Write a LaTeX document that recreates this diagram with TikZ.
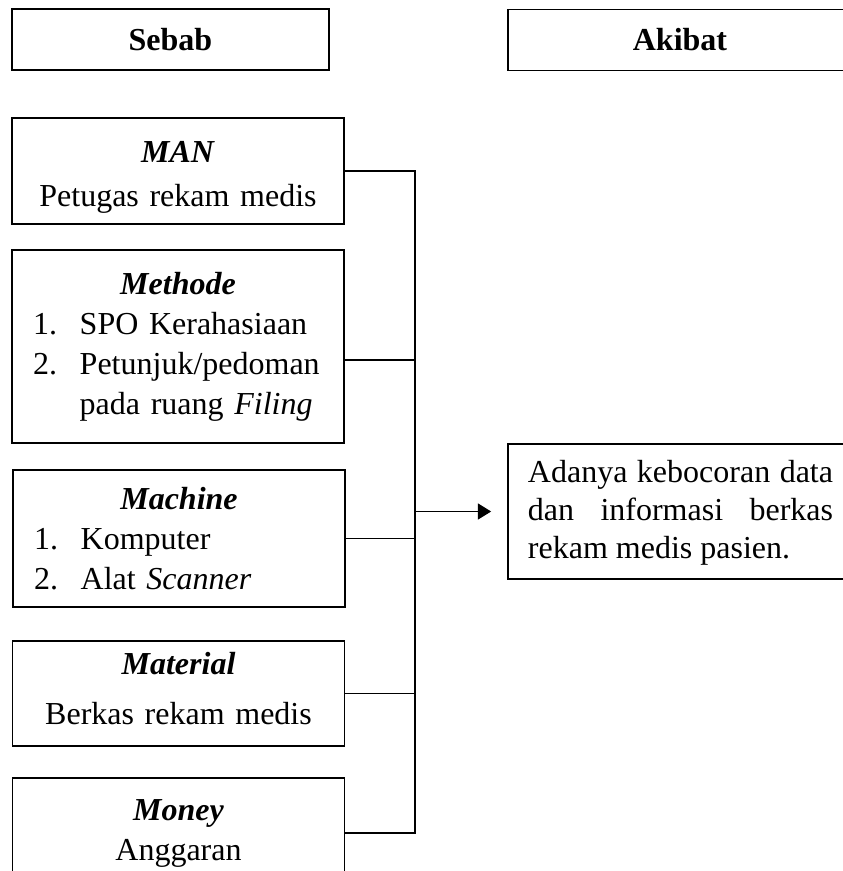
\documentclass[tikz,border=0pt]{standalone}
\usepackage{fontspec}
\setmainfont{Liberation Serif}
\usetikzlibrary{arrows.meta}

\newcommand{\listno}[1]{\makebox[17.5pt][l]{#1}}
\newcommand{\boxtitle}[1]{{\centering\textbf{\textit{#1}}\par}}

\begin{document}
\begin{tikzpicture}[x=0.375pt, y=-0.375pt, line width=0.6pt,
	headbox/.style={draw, minimum height=22.8pt, font=\fontsize{12}{15}\selectfont\bfseries},
	causebox/.style={draw, text width=108.7pt, inner xsep=7.9pt, align=left, font=\fontsize{12}{15}\selectfont},
	effectbox/.style={draw, text width=114.4pt, inner xsep=7.5pt, inner ysep=0pt, minimum height=50.6pt, align=justify, font=\fontsize{12}{14.25}\selectfont}]
	\useasboundingbox (0,0) rectangle (842,871);
	
	% headers
	\node[headbox, minimum width=118.9pt] (sebab) at (170.5,39.5) {Sebab};
	\node[headbox, minimum width=129pt] (akibat) at (680,40) {Akibat};
	
	% causes
	\node[causebox, minimum height=39.8pt] (man) at (178,171) {\boxtitle{\rule{0pt}{13pt}MAN}
		\vspace{1.5pt}{\centering Petugas rekam medis\par}};
	\node[causebox, minimum height=72.4pt] (methode) at (178,346.5) {\boxtitle{Methode}
		\listno{1.}SPO Kerahasiaan\\
		\listno{2.}Petunjuk/pedoman\\
		\hspace*{17.5pt}pada ruang \textit{Filing}};
	\node[causebox, minimum height=51.4pt] (machine) at (179,538.5) {\boxtitle{Machine}
		\listno{1.}Komputer\\
		\listno{2.}Alat \textit{Scanner}};
	\node[causebox, minimum height=39.4pt] (material) at (178.5,693.5) {\boxtitle{Material}
		\vspace{3.75pt}{\centering Berkas rekam medis\rule[-3.75pt]{0pt}{3.75pt}\par}};
	\node[causebox, minimum height=41.3pt] (money) at (178.5,833) {\boxtitle{Money}
		{\centering Anggaran\par}};
	
	% effect
	\node[effectbox] (effect) at (680.5,511.5) {\rule{0pt}{9pt}Adanya kebocoran data\linebreak
		dan informasi berkas\linebreak rekam medis pasien.};
	
	% connectors
	\coordinate (spine) at (415,0);
	\draw (man.east) -- (man.east -| spine) -- (money.east -| spine) -- (money.east);
	\draw ([yshift=-5pt]methode.east) -- ([yshift=-5pt]methode.east -| spine);
	\foreach \n in {machine, material}
		\draw (\n.east) -- (\n.east -| spine);
	\draw[-{Triangle[length=5pt, width=6pt]}, shorten >=6pt] (effect.west -| spine) -- (effect.west);
\end{tikzpicture}
\end{document}
